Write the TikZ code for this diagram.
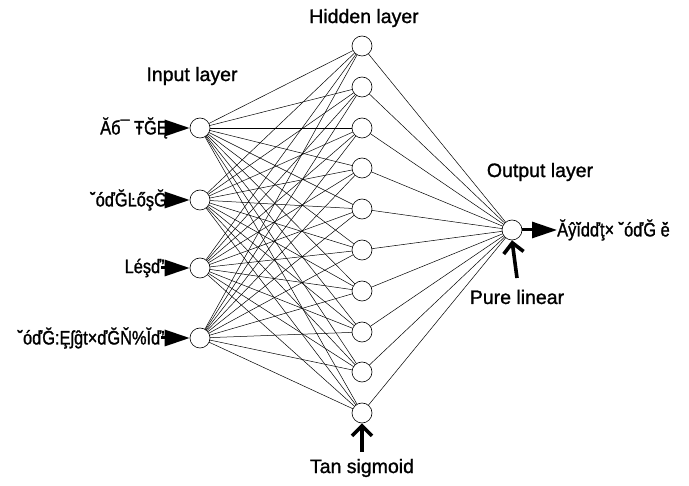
\documentclass[tikz,border=0pt]{standalone}
\usepackage{fontspec}
\setmainfont{Liberation Sans}[FakeBold=1.2]
\newfontfamily\narrowfont{Liberation Sans}[FakeBold=1.2,FakeStretch=0.84]
\usetikzlibrary{arrows.meta}
\begin{document}
\begin{tikzpicture}[x=1pt,y=-1pt,
  neuron/.style={circle,draw,line width=0.6pt,minimum size=20pt,inner sep=0pt,fill=white},
  lbl/.style={font=\fontsize{19.5}{22}\selectfont,inner sep=0pt},
  nlbl/.style={font=\narrowfont\fontsize{19.5}{22}\selectfont,inner sep=0pt},
  link/.style={line width=0.5pt},
  inarrow/.style={line width=3pt,-{Triangle[length=25pt,width=16pt]},shorten <=-4pt},
  uparrow/.style={line width=3.6pt,-{Straight Barb[length=10pt,width=20pt]}}]
\useasboundingbox (0,0) rectangle (689,486);
% hidden neurons
\foreach \i/\y in {1/46,2/87,3/128,4/168,5/209,6/250,7/291,8/332,9/372,10/413}
  \coordinate (hc\i) at (362,\y);
% input neurons
\foreach \i/\y in {1/128,2/200,3/268,4/338}
  \coordinate (ic\i) at (200,\y);
\coordinate (oc) at (512,230);
% links
\foreach \i in {1,...,4}
  \foreach \j in {1,...,10}
    \draw[link] (ic\i) -- (hc\j);
\foreach \j in {1,...,10}
  \draw[link] (hc\j) -- (oc);
% nodes
\foreach \i in {1,...,10} \node[neuron] (h\i) at (hc\i) {};
\foreach \i in {1,...,4} \node[neuron] (in\i) at (ic\i) {};
\node[neuron] (o) at (oc) {};
% layer labels
\node[lbl] (hl) at (364,18) {Hidden layer};
\node[lbl] (il) at (192,76) {Input layer};
\node[lbl] (ol) at (540,172) {Output layer};
\node[lbl] (pl) at (517,297) {Pure linear};
\node[lbl] (tl) at (362,468) {Tan sigmoid};
% input labels
\node[nlbl,anchor=east] (x1) at (168,128) {Ăб¯ ŦĞĘ};
\node[nlbl,anchor=east] (x2) at (167,200) {˘óďĞĿőşĞ};
\node[nlbl,anchor=east] (x3) at (165,268) {Léşď’};
\node[nlbl,anchor=east] (x4) at (165,338) {˘óďĞ:Ȩʃĝt×ďĞŇ\%Ĭď’};
\node[nlbl,anchor=west] (y) at (557,230) {Ăŷĭdďţ× ˘óďĞ ĕ};
% arrows
\draw[inarrow] (x1.east) -- (in1.west);
\draw[inarrow] (x2.east) -- (in2.west);
\draw[inarrow] (x3.east) -- (in3.west);
\draw[inarrow] (x4.east) -- (in4.west);
\draw[inarrow,shorten <=0pt] (o.east) -- (y.west);
\coordinate (pa) at (517,278);
\coordinate (ta) at (362,452);
\draw[uparrow] (pa) -- (o.south);
\draw[uparrow] (ta) -- (h10.south);
\end{tikzpicture}
\end{document}
